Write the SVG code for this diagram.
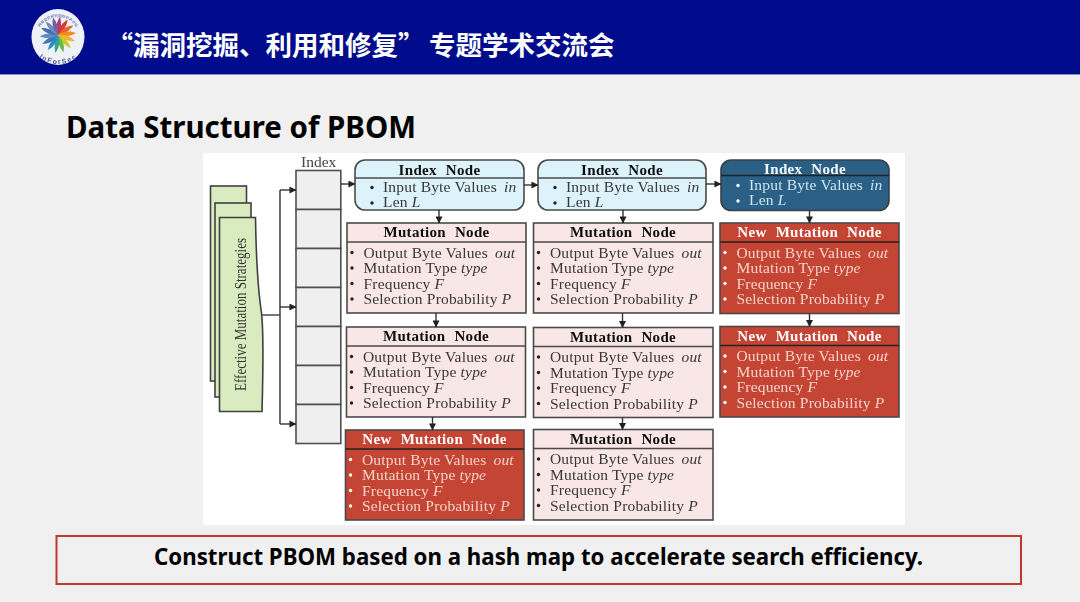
<svg xmlns="http://www.w3.org/2000/svg" xmlns:xlink="http://www.w3.org/1999/xlink" width="1080" height="602" viewBox="0 0 1080 602">
<style>
.s{font-family:"Liberation Serif","Times New Roman",serif;font-size:15.5px;letter-spacing:.18px;fill:var(--t,#383838)}
.h{font-family:"Liberation Serif","Times New Roman",serif;font-size:15px;font-weight:bold;fill:#111;text-anchor:middle;word-spacing:5px;letter-spacing:.3px}
.it{font-style:italic}
.box{fill:#f9e6e6;stroke:#4a4a4a;stroke-width:1.6}
.rbox{fill:#c54436;stroke:#4a4a4a;stroke-width:1.6}
.ibox{fill:#dcf3fb;stroke:#4a4a4a;stroke-width:1.6}
.dbox{fill:#2a6085;stroke:#3a3f44;stroke-width:1.6}
.ln{stroke:#4a4a4a;stroke-width:1.6;fill:none}
.lnd{stroke:#222;stroke-width:1.6;fill:none}
.b{fill:var(--b,#222)}
.lt{--t:#f3d3ca;--b:#fff}.lt .h{fill:#fff}
.ld{--t:#cfe3ee;--b:#fff}.ld .h{fill:#f4f9fc}
.conn{stroke:#333;stroke-width:1.4;fill:none;marker-end:url(#a)}
.green{fill:#d9ecc0;stroke:#404040;stroke-width:1.6}
.cell{fill:#efefef;stroke:#505050;stroke-width:1.6}
</style>
<defs>
<marker id="a" viewBox="0 0 8 8" refX="7.5" refY="4" markerWidth="7" markerHeight="7" markerUnits="userSpaceOnUse" orient="auto"><path d="M0 0L8 4L0 8z" fill="#222"/></marker>
<filter id="soft" x="-2%" y="-2%" width="104%" height="104%"><feGaussianBlur stdDeviation="0.4"/></filter>
<path id="petal" d="M0 0C3 -5 4 -11 2 -18C-1 -14 -3 -8 0 0z"/>
<path id="arcT" d="M36 40A22 23 0 0 1 80 40"/>
<path id="arcB" d="M34 42A25 24 0 0 0 82 42"/>
<g id="mlines">
<circle class="b" cx="5" cy="29.500" r="1.700"/><circle class="b" cx="5" cy="45" r="1.700"/><circle class="b" cx="5" cy="60.500" r="1.700"/><circle class="b" cx="5" cy="76" r="1.700"/>
<text class="s" x="16.500" y="34.500">Output Byte Values<tspan class="it" x="148">out</tspan></text>
<text class="s" x="16.500" y="50">Mutation Type <tspan class="it">type</tspan></text>
<text class="s" x="16.500" y="65.500">Frequency <tspan class="it">F</tspan></text>
<text class="s" x="16.500" y="81">Selection Probability <tspan class="it">P</tspan></text>
</g>
<g id="ilines">
<circle class="b" cx="17" cy="27.500" r="1.700"/><circle class="b" cx="17" cy="43" r="1.700"/>
<text class="s" x="28" y="32">Input Byte Values<tspan class="it" x="149">in</tspan></text>
<text class="s" x="28" y="47">Len <tspan class="it">L</tspan></text>
</g>
</defs>
<rect id="bg" width="1080" height="602" fill="#f0f0f0"/>
<g id="header">
<rect width="1080" height="74" fill="#000c8c"/>
<rect y="74" width="1080" height="1" fill="#8a90c8"/>
<g id="logo" filter="url(#soft)">
<ellipse cx="58" cy="37" rx="26.500" ry="28" fill="#eef1f6"/>
<g transform="translate(58 35)">
<use xlink:href="#petal" fill="#b03a7a" transform="rotate(0)"/>
<use xlink:href="#petal" fill="#d8382e" transform="rotate(26)"/>
<use xlink:href="#petal" fill="#e8642a" transform="rotate(52)"/>
<use xlink:href="#petal" fill="#f08c28" transform="rotate(78)"/>
<use xlink:href="#petal" fill="#f4b52c" transform="rotate(104)"/>
<use xlink:href="#petal" fill="#c8cc30" transform="rotate(130)"/>
<use xlink:href="#petal" fill="#6cb840" transform="rotate(156)"/>
<use xlink:href="#petal" fill="#2fa890" transform="rotate(182)"/>
<use xlink:href="#petal" fill="#2c8ec0" transform="rotate(208)"/>
<use xlink:href="#petal" fill="#3a78b8" transform="rotate(234)"/>
<use xlink:href="#petal" fill="#5a90c4" transform="rotate(260)"/>
<use xlink:href="#petal" fill="#4a6ea8" transform="rotate(286)"/>
<use xlink:href="#petal" fill="#6a8cc0" transform="rotate(312)"/>
<use xlink:href="#petal" fill="#7a5ca0" transform="rotate(338)"/>
</g>
<text font-family="'Noto Sans CJK SC',sans-serif" font-size="3.600" fill="#3c4f96"><textPath xlink:href="#arcT" startOffset="50%" text-anchor="middle">网络安全研究国际学术论坛</textPath></text>
<text font-family="'Liberation Sans',sans-serif" font-size="7" font-weight="bold" fill="#4a5a96" letter-spacing=".6"><textPath xlink:href="#arcB" startOffset="50%" text-anchor="middle" dominant-baseline="hanging">InForSec</textPath></text>
</g>
<text x="106.500" y="55" font-family="'Noto Sans CJK SC',sans-serif" font-size="26.500" font-weight="bold" fill="#fff">“漏洞挖掘、利用和修复”<tspan x="429">专题学术交流会</tspan></text>
</g>
<text id="title" x="66" y="138" font-family="'Noto Sans','Open Sans',sans-serif" font-size="30" font-weight="bold" fill="#000" textLength="350" lengthAdjust="spacingAndGlyphs">Data Structure of PBOM</text>
<rect id="panel" x="203" y="153" width="702" height="372" fill="#fff"/>
<g id="diagram" filter="url(#soft)">
<g id="strategies">
<rect class="green" x="210.500" y="186" width="36" height="195"/>
<rect class="green" x="215" y="203" width="36" height="194"/>
<path class="green" d="M219.500 217.500H255.500C256 250 258 290 261.500 313C264 335 263 375 262 411.500H219.500z"/>
<text x="0" y="0" transform="translate(246 391) rotate(-90)" font-family="'Liberation Serif',serif" font-size="16.500" fill="#333" textLength="153" lengthAdjust="spacingAndGlyphs">Effective Mutation Strategies</text>
</g>
<g id="index-table">
<text x="301" y="166.500" font-family="'Liberation Serif',serif" font-size="15.500" fill="#444">Index</text>
<rect class="cell" x="296" y="170.500" width="44.800" height="39"/>
<rect class="cell" x="296" y="209.500" width="44.800" height="39"/>
<rect class="cell" x="296" y="248.500" width="44.800" height="39"/>
<rect class="cell" x="296" y="287.500" width="44.800" height="39"/>
<rect class="cell" x="296" y="326.500" width="44.800" height="39"/>
<rect class="cell" x="296" y="365.500" width="44.800" height="39"/>
<rect class="cell" x="296" y="404.500" width="44.800" height="39"/>
</g>
<g id="index-1" transform="translate(355 160)"><rect class="ibox" width="169" height="50" rx="10"/><path class="ln" d="M0 18H169"/><text class="h" x="84.500" y="15">Index Node</text><use xlink:href="#ilines"/></g>
<g id="index-2" transform="translate(538 160)"><rect class="ibox" width="168" height="50" rx="10"/><path class="ln" d="M0 18H168"/><text class="h" x="84" y="15">Index Node</text><use xlink:href="#ilines"/></g>
<g id="index-3" class="ld" transform="translate(721 160)"><rect class="dbox" width="168" height="50.500" rx="10"/><path class="lnd" d="M0 15.500H168"/><text class="h" x="84" y="13.500">Index Node</text><g transform="translate(0 -2)"><use xlink:href="#ilines"/></g></g>
<g id="mut-1-1" transform="translate(347 223)"><rect class="box" width="179" height="90"/><path class="ln" d="M0 19H179"/><text class="h" x="89.500" y="14">Mutation Node</text><use xlink:href="#mlines"/></g>
<g id="mut-1-2" transform="translate(346.500 327)"><rect class="box" width="179" height="90"/><path class="ln" d="M0 19H179"/><text class="h" x="89.500" y="14">Mutation Node</text><use xlink:href="#mlines"/></g>
<g id="new-1-3" class="lt" transform="translate(345.500 430)"><rect class="rbox" width="178.500" height="90"/><path class="lnd" d="M0 19H178.500"/><text class="h" x="89" y="14">New Mutation Node</text><use xlink:href="#mlines"/></g>
<g id="mut-2-1" transform="translate(533.500 223)"><rect class="box" width="179.500" height="90"/><path class="ln" d="M0 19H179.500"/><text class="h" x="89.500" y="14">Mutation Node</text><use xlink:href="#mlines"/></g>
<g id="mut-2-2" transform="translate(533.500 327.500)"><rect class="box" width="179.500" height="90"/><path class="ln" d="M0 19H179.500"/><text class="h" x="89.500" y="14">Mutation Node</text><use xlink:href="#mlines"/></g>
<g id="mut-2-3" transform="translate(533.500 429.500)"><rect class="box" width="179.500" height="90.500"/><path class="ln" d="M0 19H179.500"/><text class="h" x="89.500" y="14">Mutation Node</text><use xlink:href="#mlines"/></g>
<g id="new-3-1" class="lt" transform="translate(720 223)"><rect class="rbox" width="179" height="90.500"/><path class="lnd" d="M0 19H179"/><text class="h" x="89.500" y="14">New Mutation Node</text><use xlink:href="#mlines"/></g>
<g id="new-3-2" class="lt" transform="translate(720 326.500)"><rect class="rbox" width="179" height="90.500"/><path class="lnd" d="M0 19H179"/><text class="h" x="89.500" y="14">New Mutation Node</text><use xlink:href="#mlines"/></g>
<g id="connectors">
<path class="ln" d="M262 315H280M280 190V424"/>
<path class="conn" d="M280 190H296"/>
<path class="conn" d="M280 307H296"/>
<path class="conn" d="M280 424H296"/>
<path class="conn" d="M341 184H355"/>
<path class="conn" d="M524 185H538"/>
<path class="conn" d="M706 184H721"/>
<path class="conn" d="M439 210V223"/>
<path class="conn" d="M623 210V223"/>
<path class="conn" d="M809.500 210.500V223"/>
<path class="conn" d="M436 313V327"/>
<path class="conn" d="M622.500 313V327.500"/>
<path class="conn" d="M809.500 313.500V326.500"/>
<path class="conn" d="M432.500 417V430"/>
<path class="conn" d="M622.500 417.500V429.500"/>
</g>
</g>
<g id="callout">
<rect x="56.500" y="536" width="964.500" height="48" fill="none" stroke="#c0392f" stroke-width="2"/>
<text x="538.500" y="565" text-anchor="middle" font-family="'Noto Sans','Open Sans',sans-serif" font-size="23" font-weight="bold" fill="#000" textLength="769" lengthAdjust="spacingAndGlyphs">Construct PBOM based on a hash map to accelerate search efficiency.</text>
</g>
</svg>
